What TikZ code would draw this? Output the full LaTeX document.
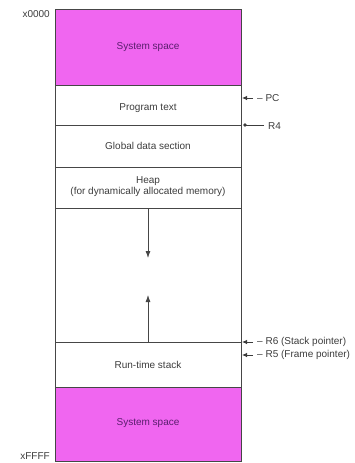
\documentclass[tikz,border=0pt]{standalone}
\usepackage{fontspec}
\setmainfont{Liberation Sans}
\usetikzlibrary{arrows.meta}
\definecolor{mag}{RGB}{240,102,240}
\definecolor{magtxt}{RGB}{90,30,110}
\definecolor{txt}{RGB}{60,60,60}
\definecolor{edge}{RGB}{70,70,70}
\begin{document}
\begin{tikzpicture}[x=1pt,y=-1pt,
  region/.style={draw=edge,line width=0.8pt,inner sep=0pt},
  sys/.style={region,fill=mag},
  lbl/.style={font=\fontsize{10}{11}\selectfont,text=txt,inner sep=0pt},
  syslbl/.style={font=\fontsize{10}{11}\selectfont,text=magtxt,inner sep=0pt},
  ptr/.style={-{Latex[length=5pt,width=4.5pt]},line width=0.8pt,draw=txt},
  growarrow/.style={-{Latex[length=7pt,width=5pt]},line width=0.8pt,draw=edge}]
\useasboundingbox (0,0) rectangle (355,463);
% regions
\draw[sys] (55,9) rectangle (241,85);
\draw[region] (55,85) rectangle (241,125);
\draw[region] (55,125) rectangle (241,167);
\draw[region] (55,167) rectangle (241,208);
\draw[region] (55,208) rectangle (241,342);
\draw[region] (55,342) rectangle (241,387);
\draw[sys] (55,387) rectangle (241,461);
% labels
\node[syslbl] (sys1) at (148,47) {System space};
\node[lbl] (prog) at (148,108) {Program text};
\node[lbl] (glob) at (148,146) {Global data section};
\node[lbl,align=center] (heap) at (148,187) {Heap\\(for dynamically allocated memory)};
\node[lbl] (stack) at (148,365) {Run-time stack};
\node[syslbl] (sys2) at (148,423) {System space};
\node[lbl,anchor=east] (top) at (50,14) {x0000};
\node[lbl,anchor=east] (bot) at (50,456) {xFFFF};
% growth arrows
\coordinate (hb) at (148,208);
\coordinate (ht) at (148,258);
\coordinate (sb) at (148,342);
\coordinate (st) at (148,295);
\draw[growarrow] (hb) -- (ht);
\draw[growarrow] (sb) -- (st);
% pointers
\node[lbl,anchor=west] (pc) at (257,98) {– PC};
\node[lbl,anchor=west] (r4) at (268,126) {R4};
\node[lbl,anchor=west] (r6) at (257,342) {– R6 (Stack pointer)};
\node[lbl,anchor=west] (r5) at (257,355) {– R5 (Frame pointer)};
\coordinate (pcs) at (253,98); \coordinate (pce) at (242,98);
\coordinate (r4s) at (264,125); \coordinate (r4e) at (245,125);
\coordinate (r6s) at (253,342); \coordinate (r6e) at (242,342);
\coordinate (r5s) at (253,355); \coordinate (r5e) at (242,355);
\draw[ptr] (pcs) -- (pce);
\draw[line width=0.8pt,draw=txt] (r4s) -- (r4e);
\fill[txt] (r4e) circle (1.8pt);
\draw[ptr] (r6s) -- (r6e);
\draw[ptr] (r5s) -- (r5e);
\end{tikzpicture}
\end{document}
